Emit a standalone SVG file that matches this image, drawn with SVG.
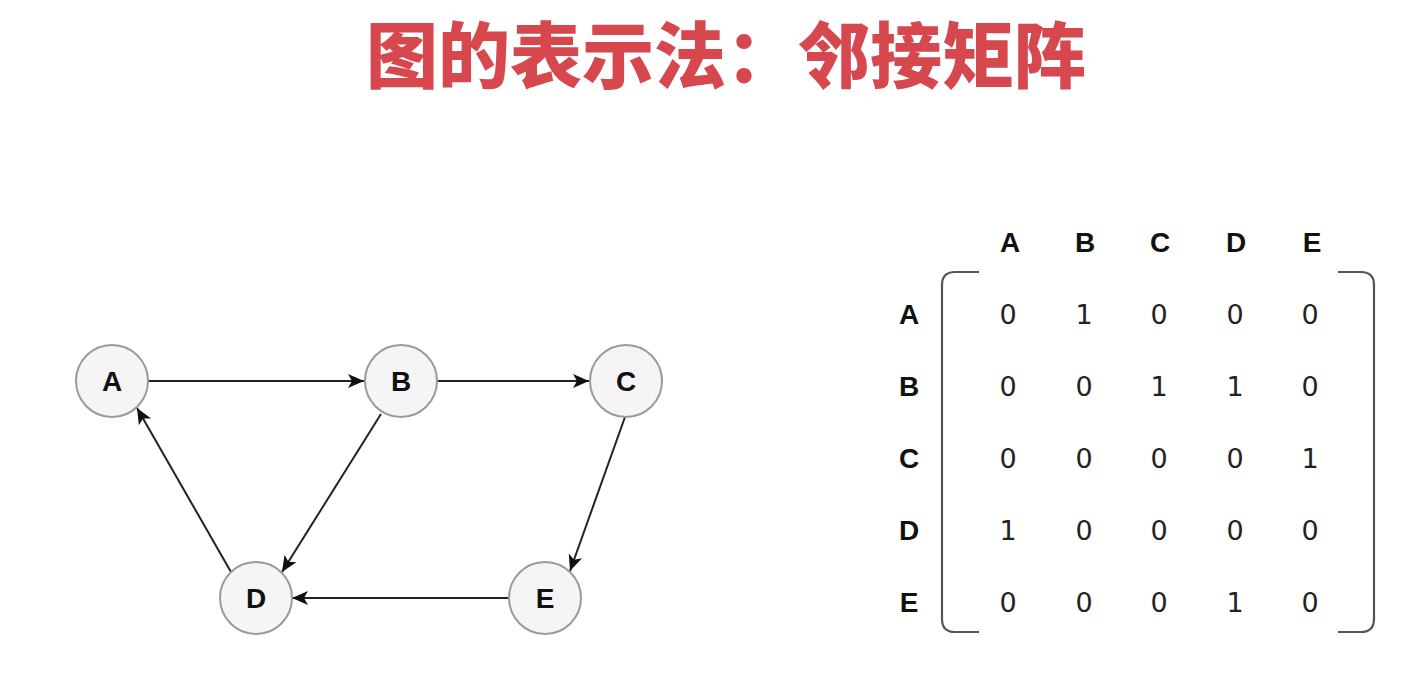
<svg xmlns="http://www.w3.org/2000/svg" width="1428" height="688" viewBox="0 0 1428 688">
<style>
.title{font-family:"Noto Sans CJK SC","Noto Sans",sans-serif;font-weight:900;font-size:72px;fill:#d6474e}
.node circle{fill:#f5f5f5;stroke:#9a9a9a;stroke-width:2}
.lbl{font-family:"Liberation Sans",Arial,sans-serif;font-weight:bold;font-size:28px;fill:#111;text-anchor:middle}
.num{font-family:"DejaVu Sans",sans-serif;font-size:27px;fill:#222;text-anchor:middle}
.edge{stroke:#222;stroke-width:2;fill:none;marker-end:url(#arr)}
.br{stroke:#555;stroke-width:2.2;fill:none}
</style>
<defs>
<marker id="arr" markerUnits="userSpaceOnUse" markerWidth="18" markerHeight="16" viewBox="0 0 18 16" refX="16" refY="8" orient="auto">
<path d="M0,1 L16,8 L0,15 L4,8 Z" fill="#111"/>
</marker>
</defs>
<rect width="1428" height="688" fill="#ffffff"/>
<text class="title" x="726" y="82" text-anchor="middle">图的表示法：邻接矩阵</text>

<g id="connectors">
<line class="edge" x1="148" y1="381" x2="364" y2="381"/>
<line class="edge" x1="437" y1="381" x2="589" y2="381"/>
<line class="edge" x1="625" y1="417" x2="570" y2="571"/>
<line class="edge" x1="381" y1="414" x2="282" y2="572"/>
<line class="edge" x1="231" y1="572" x2="137" y2="408"/>
<line class="edge" x1="508" y1="598" x2="292" y2="598"/>
</g>

<g id="node-A" class="node"><circle cx="112" cy="381" r="36"/><text class="lbl" x="112" y="391">A</text></g>
<g id="node-B" class="node"><circle cx="401" cy="381" r="36"/><text class="lbl" x="401" y="391">B</text></g>
<g id="node-C" class="node"><circle cx="626" cy="381" r="36"/><text class="lbl" x="626" y="391">C</text></g>
<g id="node-D" class="node"><circle cx="256" cy="598" r="36"/><text class="lbl" x="256" y="608">D</text></g>
<g id="node-E" class="node"><circle cx="545" cy="598" r="36"/><text class="lbl" x="545" y="608">E</text></g>

<g id="matrix">
<g id="col-headers">
<text class="lbl" x="1010" y="252">A</text>
<text class="lbl" x="1085" y="252">B</text>
<text class="lbl" x="1160" y="252">C</text>
<text class="lbl" x="1236" y="252">D</text>
<text class="lbl" x="1312" y="252">E</text>
</g>
<g id="row-headers">
<text class="lbl" x="909" y="324">A</text>
<text class="lbl" x="909" y="396">B</text>
<text class="lbl" x="909" y="468">C</text>
<text class="lbl" x="909" y="540">D</text>
<text class="lbl" x="909" y="612">E</text>
</g>
<path class="br" d="M979,272 L955,272 Q942,272 942,285 L942,619 Q942,632 955,632 L979,632"/>
<path class="br" d="M1338,272 L1361,272 Q1374,272 1374,285 L1374,619 Q1374,632 1361,632 L1338,632"/>
<g id="values">
<text class="num" x="1008" y="324">0</text><text class="num" x="1084" y="324">1</text><text class="num" x="1159" y="324">0</text><text class="num" x="1235" y="324">0</text><text class="num" x="1310" y="324">0</text>
<text class="num" x="1008" y="396">0</text><text class="num" x="1084" y="396">0</text><text class="num" x="1159" y="396">1</text><text class="num" x="1235" y="396">1</text><text class="num" x="1310" y="396">0</text>
<text class="num" x="1008" y="468">0</text><text class="num" x="1084" y="468">0</text><text class="num" x="1159" y="468">0</text><text class="num" x="1235" y="468">0</text><text class="num" x="1310" y="468">1</text>
<text class="num" x="1008" y="540">1</text><text class="num" x="1084" y="540">0</text><text class="num" x="1159" y="540">0</text><text class="num" x="1235" y="540">0</text><text class="num" x="1310" y="540">0</text>
<text class="num" x="1008" y="612">0</text><text class="num" x="1084" y="612">0</text><text class="num" x="1159" y="612">0</text><text class="num" x="1235" y="612">1</text><text class="num" x="1310" y="612">0</text>
</g>
</g>
</svg>
